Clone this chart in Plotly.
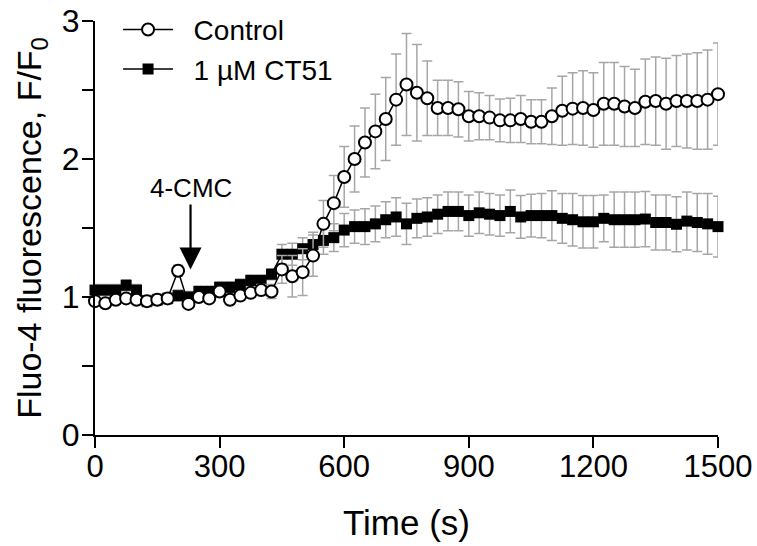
import plotly.graph_objects as go

time_s = [0, 25, 50, 75, 100, 125, 150, 175, 200, 225, 250, 275, 300, 325, 350, 375, 400,
          425, 450, 475, 500, 525, 550, 575, 600, 625, 650, 675, 700, 725, 750, 775, 800,
          825, 850, 875, 900, 925, 950, 975, 1000, 1025, 1050, 1075, 1100, 1125, 1150,
          1175, 1200, 1225, 1250, 1275, 1300, 1325, 1350, 1375, 1400, 1425, 1450, 1475, 1500]

control_mean = [0.97, 0.955, 0.98, 0.99, 0.98, 0.97, 0.98, 0.99, 1.19, 0.95, 1.00, 0.99, 1.04,
                0.98, 1.01, 1.03, 1.05, 1.04, 1.20, 1.15, 1.18, 1.30, 1.53, 1.68, 1.87, 2.00,
                2.12, 2.20, 2.29, 2.43, 2.54, 2.48, 2.44, 2.37, 2.37, 2.36, 2.31, 2.31, 2.30,
                2.28, 2.28, 2.29, 2.27, 2.27, 2.31, 2.35, 2.365, 2.37, 2.355, 2.40, 2.40, 2.38,
                2.37, 2.415, 2.42, 2.40, 2.42, 2.42, 2.42, 2.43, 2.47]

control_sem = [0.03, 0.03, 0.03, 0.03, 0.03, 0.03, 0.03, 0.03, 0.04, 0.03, 0.03, 0.03, 0.03,
               0.03, 0.03, 0.03, 0.04, 0.05, 0.10, 0.15, 0.17, 0.15, 0.17, 0.20, 0.22, 0.24,
               0.25, 0.27, 0.30, 0.33, 0.37, 0.35, 0.27, 0.20, 0.20, 0.20, 0.18, 0.17, 0.16,
               0.155, 0.16, 0.17, 0.16, 0.16, 0.205, 0.25, 0.26, 0.27, 0.27, 0.30, 0.30, 0.29,
               0.28, 0.31, 0.32, 0.33, 0.33, 0.34, 0.35, 0.36, 0.37]

ct51_mean = [1.05, 1.05, 1.05, 1.085, 1.05, 0.97, 0.98, 0.99, 1.01, 1.00, 1.04, 1.04, 1.07,
             1.07, 1.09, 1.12, 1.12, 1.165, 1.31, 1.31, 1.35, 1.38, 1.41, 1.43, 1.485, 1.51,
             1.51, 1.53, 1.56, 1.58, 1.53, 1.57, 1.58, 1.60, 1.62, 1.62, 1.59, 1.61, 1.60,
             1.59, 1.62, 1.58, 1.59, 1.59, 1.59, 1.57, 1.56, 1.545, 1.545, 1.57, 1.56, 1.56,
             1.56, 1.565, 1.54, 1.54, 1.527, 1.55, 1.54, 1.53, 1.51]

ct51_sem = [0.04, 0.04, 0.04, 0.04, 0.04, 0.04, 0.04, 0.04, 0.04, 0.04, 0.04, 0.04, 0.04,
            0.04, 0.04, 0.04, 0.04, 0.04, 0.07, 0.08, 0.08, 0.09, 0.10, 0.10, 0.12, 0.12,
            0.13, 0.13, 0.13, 0.14, 0.15, 0.14, 0.14, 0.14, 0.14, 0.14, 0.15, 0.15, 0.15,
            0.15, 0.155, 0.155, 0.155, 0.16, 0.18, 0.18, 0.19, 0.19, 0.19, 0.17, 0.20, 0.20,
            0.20, 0.20, 0.20, 0.20, 0.20, 0.21, 0.21, 0.22, 0.22]

series_names = ["Control", "1 µM CT51"]
x_ticks = [0, 300, 600, 900, 1200, 1500]
y_ticks = [0, 1, 2, 3]

FONT = "Liberation Sans, Arial, sans-serif"
ERR_COLOR = "#a6a6a6"
PAD = "\u00a0\u00a0"

fig = go.Figure()

fig.add_trace(go.Scatter(
    x=time_s, y=ct51_mean, name=PAD + series_names[1], mode="lines+markers",
    line=dict(color="black", width=1.5),
    marker=dict(symbol="square", size=11, color="black", line=dict(width=0)),
    error_y=dict(type="data", array=ct51_sem, visible=True, color=ERR_COLOR,
                 thickness=1.5, width=5),
    cliponaxis=False, legendgroup="b",
))

fig.add_trace(go.Scatter(
    x=time_s, y=control_mean, name=PAD + series_names[0], mode="lines+markers",
    line=dict(color="black", width=1.5),
    marker=dict(symbol="circle", size=12, color="white", line=dict(color="black", width=2)),
    error_y=dict(type="data", array=control_sem, visible=True, color=ERR_COLOR,
                 thickness=1.5, width=5),
    cliponaxis=False, legendgroup="a",
))

fig.add_annotation(
    x=230, y=1.2, ax=230, ay=1.79, xref="x", yref="y", axref="x", ayref="y",
    text="4-CMC", showarrow=True, arrowhead=2, arrowsize=2.0, arrowwidth=2.2,
    arrowcolor="black", font=dict(family=FONT, size=26, color="black"),
)

fig.update_layout(
    width=757, height=546,
    margin=dict(l=95, r=39, t=21, b=111, autoexpand=False),
    plot_bgcolor="white", paper_bgcolor="white",
    font=dict(family=FONT, color="black"),
    showlegend=True,
    legend=dict(
        x=0.037, y=1.039, xanchor="left", yanchor="top",
        traceorder="reversed", tracegroupgap=0, itemwidth=50,
        font=dict(family=FONT, size=28, color="black"),
        bgcolor="rgba(0,0,0,0)",
    ),
    xaxis=dict(
        range=[0, 1500], tickvals=x_ticks, ticktext=[str(v) for v in x_ticks],
        ticks="outside", ticklen=11, tickwidth=2, tickcolor="black",
        showline=True, linewidth=2, linecolor="black",
        showgrid=False, zeroline=False, automargin=False,
        ticklabelstandoff=-8, ticklabeloverflow="allow",
        tickfont=dict(family=FONT, size=31, color="black"),
        title=dict(text="Time (s)", font=dict(family=FONT, size=35, color="black"),
                   standoff=27),
    ),
    yaxis=dict(
        range=[0, 3], tickvals=y_ticks, ticktext=[str(v) for v in y_ticks],
        ticks="outside", ticklen=11, tickwidth=2, tickcolor="black",
        minor=dict(dtick=0.5, ticks="outside", ticklen=11, tickwidth=2, tickcolor="black"),
        showline=True, linewidth=2, linecolor="black",
        showgrid=False, zeroline=False, automargin=False,
        ticklabelstandoff=-4, ticklabeloverflow="allow",
        tickfont=dict(family=FONT, size=32, color="black"),
        title=dict(text="Fluo-4 fluorescence, F/F<sub>0</sub>",
                   font=dict(family=FONT, size=34, color="black"), standoff=10),
    ),
)

fig.write_html(
    "out.html",
    config={"displayModeBar": False},
    post_script="document.body.style.margin='0';document.body.style.overflow='hidden';",
)
